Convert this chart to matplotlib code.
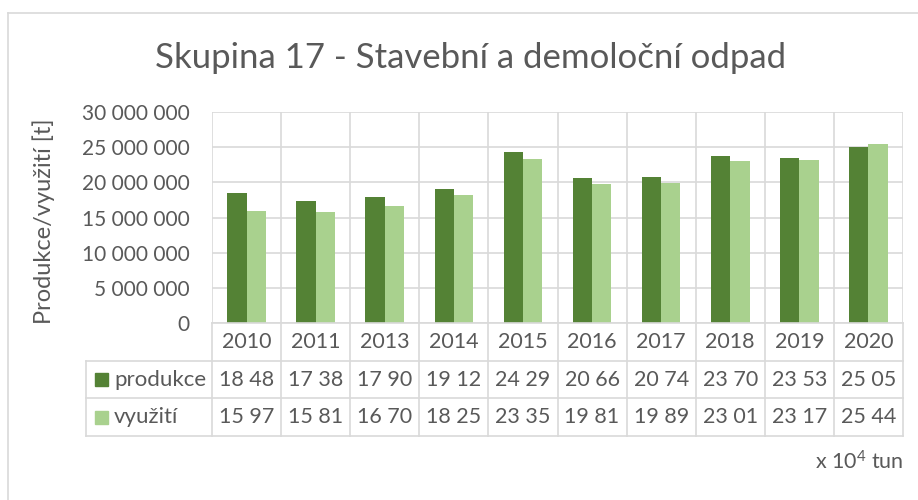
import matplotlib
matplotlib.use("Agg")
import matplotlib.pyplot as plt
from matplotlib.patches import Rectangle

plt.rcParams['font.family'] = ['Lato', 'DejaVu Sans']
plt.rcParams['mathtext.fontset'] = 'custom'
plt.rcParams['mathtext.rm'] = 'Lato'
plt.rcParams['mathtext.it'] = 'Lato'

# ---- data (units of 10^4 t) ----
years = ["2010", "2011", "2013", "2014", "2015", "2016", "2017", "2018", "2019", "2020"]
produkce = [1848, 1738, 1790, 1912, 2429, 2066, 2074, 2370, 2353, 2505]
vyuziti = [1597, 1581, 1670, 1825, 2335, 1981, 1989, 2301, 2317, 2544]
series_names = ["produkce", "využití"]
yticks = [0, 5000000, 10000000, 15000000, 20000000, 25000000, 30000000]
title = "Skupina 17 - Stavební a demoloční odpad"
ylabel = "Produkce/využití [t]"
unit_note = "x 10$^{4}$ tun"
scale = 10000

C_DARK = "#548235"
C_LIGHT = "#A9D18E"
C_TEXT = "#595959"
C_GRID = "#D9D9D9"

W, H = 918, 500
fig = plt.figure(figsize=(W / 100, H / 100), dpi=100)

# layout in pixels
L, R, T, B = 212, 903, 112, 323
row_h = 37.7
leg_left = 86
FS = 15.5

ax = fig.add_axes([L / W, 1 - B / H, (R - L) / W, (B - T) / H])
n = len(years)
xs = list(range(n))
bw = 0.28
ax.bar([x - bw / 2 for x in xs], [v * scale for v in produkce], width=bw, color=C_DARK, zorder=3)
ax.bar([x + bw / 2 for x in xs], [v * scale for v in vyuziti], width=bw, color=C_LIGHT, zorder=3)
ax.set_xlim(-0.5, n - 0.5)
ax.set_ylim(0, 30000000)
ax.set_yticks(yticks)
ax.set_yticklabels([f"{t:,}".replace(",", " ") for t in yticks], fontsize=15, color=C_TEXT)
ax.tick_params(axis='y', length=0, pad=16)
ax.set_xticks([])
for t in yticks:
    ax.axhline(t, color=C_GRID, lw=1.2, zorder=1)
for k in range(n + 1):
    ax.axvline(k - 0.5, color=C_GRID, lw=1.2, zorder=1)
for s in ax.spines.values():
    s.set_visible(False)

# overlay in pixel coordinates
ov2 = fig.add_axes([0, 0, 1, 1])
ov2.set_xlim(0, W)
ov2.set_ylim(H, 0)
ov2.axis('off')
ov2.patch.set_alpha(0)

ov2.text(44, (T + B) / 2 + 4, ylabel, fontsize=17, color=C_TEXT, rotation=90,
         ha='center', va='center')

# outer border
ov2.plot([8, 8], [13, H], color=C_GRID, lw=1.2)
ov2.plot([8, W], [13, 13], color=C_GRID, lw=1.2)

ov2.text(471, 58, title, fontsize=25, color=C_TEXT, ha='center', va='center')

colw = (R - L) / n
rows_y = [B, B + row_h, B + 2 * row_h, B + 3 * row_h]
# table lines
for k in range(n + 1):
    x = L + k * colw
    ov2.plot([x, x], [B, rows_y[3]], color=C_GRID, lw=1.2)
ov2.plot([L, R], [rows_y[0], rows_y[0]], color=C_GRID, lw=1.2)
for y in rows_y[1:]:
    ov2.plot([leg_left, R], [y, y], color=C_GRID, lw=1.2)
ov2.plot([leg_left, leg_left], [rows_y[1], rows_y[3]], color=C_GRID, lw=1.2)

def fmt(v):
    return f"{v // 100} {v % 100:02d}"

for k, yr in enumerate(years):
    cx = L + (k + 0.5) * colw
    ov2.text(cx, (rows_y[0] + rows_y[1]) / 2, yr, fontsize=FS, color=C_TEXT, ha='center', va='center')
    ov2.text(cx, (rows_y[1] + rows_y[2]) / 2, fmt(produkce[k]), fontsize=FS, color=C_TEXT, ha='center', va='center')
    ov2.text(cx, (rows_y[2] + rows_y[3]) / 2, fmt(vyuziti[k]), fontsize=FS, color=C_TEXT, ha='center', va='center')

for i, (name, col) in enumerate(zip(series_names, [C_DARK, C_LIGHT])):
    cy = (rows_y[i + 1] + rows_y[i + 2]) / 2
    ov2.add_patch(Rectangle((95, cy - 6.5), 13, 13, color=col))
    ov2.text(114, cy, name, fontsize=16, color=C_TEXT, ha='left', va='center')

ov2.text(R, 462, unit_note, fontsize=FS, color=C_TEXT, ha='right', va='center')

fig.savefig("out.png", dpi=100, facecolor='white')
